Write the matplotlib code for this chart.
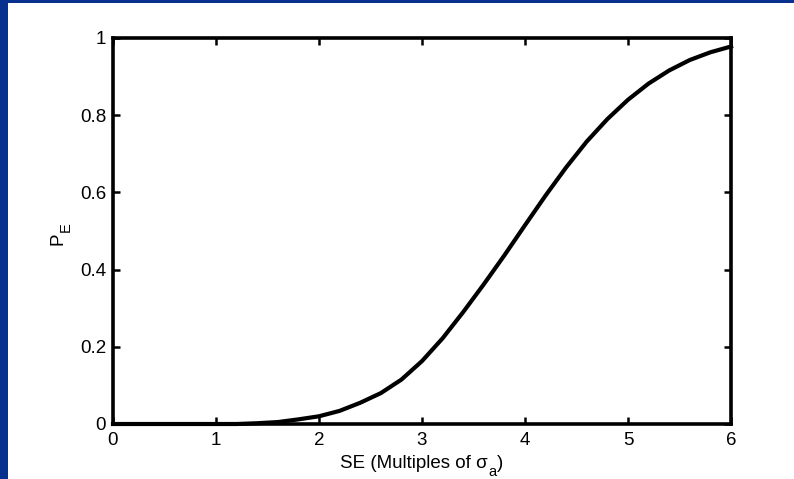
import matplotlib
matplotlib.use("Agg")
import matplotlib.pyplot as plt
from matplotlib.patches import Rectangle

plt.rcParams['font.family'] = ['Liberation Sans', 'DejaVu Sans']

se = [0, 0.5, 1.0, 1.2, 1.4, 1.6, 1.8, 2.0, 2.2, 2.4, 2.6, 2.8, 3.0, 3.2, 3.4,
      3.6, 3.8, 4.0, 4.2, 4.4, 4.6, 4.8, 5.0, 5.2, 5.4, 5.6, 5.8, 6.0]
pe = [0, 0, 0, 0, 0.002, 0.005, 0.012, 0.02, 0.034, 0.055, 0.08, 0.115, 0.163,
      0.222, 0.29, 0.362, 0.437, 0.515, 0.592, 0.665, 0.732, 0.79, 0.84, 0.882,
      0.916, 0.943, 0.963, 0.978]
xticks = [0, 1, 2, 3, 4, 5, 6]
yticks = [0, 0.2, 0.4, 0.6, 0.8, 1]
ytick_labels = ['0', '0.2', '0.4', '0.6', '0.8', '1']
xlabel_main, xlabel_sub, xlabel_end = 'SE (Multiples of σ', 'a', ')'
ylabel_main, ylabel_sub = 'P', 'E'

W, H = 794, 479
FS = 13.5
SUB = 10.5
fig = plt.figure(figsize=(W / 100, H / 100), dpi=100)
fig.patch.set_facecolor('#08318f')
bg = Rectangle((8 / W, 0), 1 - 8 / W, 1 - 3 / H, transform=fig.transFigure,
               facecolor='white', edgecolor='none', zorder=-10)
fig.add_artist(bg)

ax = fig.add_axes([113 / W, 1 - 424 / H, (731 - 113) / W, (424 - 38) / H])
ax.set_zorder(5)
ax.set_facecolor('white')
ax.plot(se, pe, color='black', lw=3.0, solid_joinstyle='round', clip_on=False)
ax.set_xlim(0, 6)
ax.set_ylim(0, 1)
ax.set_xticks(xticks)
ax.set_yticks(yticks)
ax.set_yticklabels(ytick_labels)
for s in ax.spines.values():
    s.set_linewidth(2.6)
ax.tick_params(direction='in', length=5, width=1.8, top=True, right=True,
               labelsize=FS, pad=5)
ax.tick_params(axis='x', pad=6)

# pixel-coordinate helpers (y measured from top)
def px(x, y_top):
    return x / W, 1 - y_top / H

renderer = fig.canvas.get_renderer()

# x label with lowered subscript
t1 = fig.text(*px(0, 468), xlabel_main, fontsize=FS, ha='left', va='baseline')
w1 = t1.get_window_extent(renderer).width
t2 = fig.text(*px(0, 476), xlabel_sub, fontsize=SUB, ha='left', va='baseline')
w2 = t2.get_window_extent(renderer).width
t3 = fig.text(*px(0, 468), xlabel_end, fontsize=FS, ha='left', va='baseline')
w3 = t3.get_window_extent(renderer).width
total = w1 + w2 + w3
x0 = 421.5 - total / 2
t1.set_x(x0 / W)
t2.set_x((x0 + w1 + 0.5) / W)
t3.set_x((x0 + w1 + w2 + 0.5) / W)

# y label with lowered subscript (rotated)
p = fig.text(*px(62, 245), ylabel_main, fontsize=FS, rotation=90,
             rotation_mode='anchor', ha='left', va='baseline')
hp = p.get_window_extent(renderer).height
fig.text(*px(70, 245 - hp - 1), ylabel_sub, fontsize=SUB, rotation=90,
         rotation_mode='anchor', ha='left', va='baseline')

fig.savefig('out.png', dpi=100, facecolor=fig.get_facecolor())
